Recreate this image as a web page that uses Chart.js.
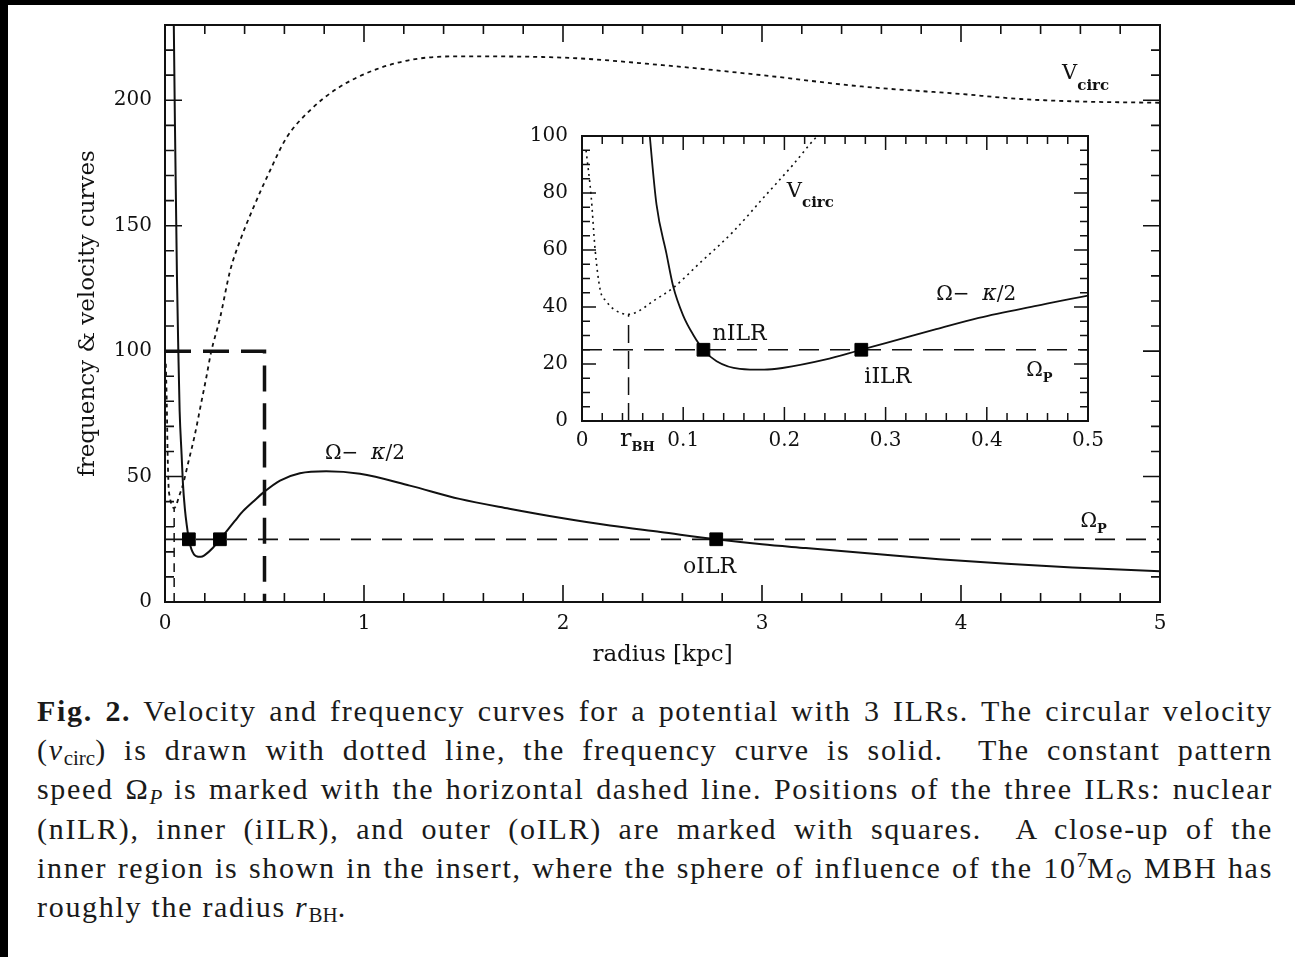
<!DOCTYPE html>
<html lang="en">
<head>
<meta charset="UTF-8">
<title>Fig. 2 - velocity and frequency curves</title>
<script src="https://cdn.jsdelivr.net/npm/chart.js"></script>
<style>
  body {
    margin: 0;
    width: 1295px;
    height: 957px;
    position: relative;
    overflow: hidden;
    background: #fff;
  }
  .edge-top { position: absolute; left: 0; top: 0; width: 1295px; height: 5px; background: #000; }
  .edge-left { position: absolute; left: 0; top: 0; width: 8px; height: 957px; background: #000; }
  #mainChart { position: absolute; left: 0; top: 0; }
  #insetChart { position: absolute; left: 500px; top: 110px; }
  .caption {
    position: absolute;
    left: 37px;
    top: 691px;
    width: 1236px;
    font-family: 'Liberation Serif', 'Times New Roman', serif;
    font-size: 30px;
    letter-spacing: 1.7px;
    line-height: 39.2px;
    color: #1a1a1a;
  }
  .caption div { text-align: justify; text-align-last: justify; white-space: nowrap; }
  .caption div.last { text-align-last: left; }
  .caption sub, .caption sup { font-size: 21px; letter-spacing: 0; line-height: 0; position: relative; vertical-align: baseline; }
  .caption sub { top: 5px; }
  .caption sup { top: -11px; }
</style>
</head>
<body>
<div class="edge-top"></div>
<div class="edge-left"></div>
<canvas id="mainChart" width="1295" height="680"></canvas>
<canvas id="insetChart" width="620" height="360"></canvas>

<div class="caption">
  <div><b>Fig. 2.</b> Velocity and frequency curves for a potential with 3 ILRs. The circular velocity</div>
  <div>(<i>v</i><sub>circ</sub>) is drawn with dotted line, the frequency curve is solid. &nbsp;The constant pattern</div>
  <div>speed &Omega;<sub><i>P</i></sub> is marked with the horizontal dashed line. Positions of the three ILRs: nuclear</div>
  <div>(nILR), inner (iILR), and outer (oILR) are marked with squares. &nbsp;A close-up of the</div>
  <div>inner region is shown in the insert, where the sphere of influence of the 10<sup>7</sup>M<sub>&#8857;</sub> MBH has</div>
  <div class="last">roughly the radius <i>r</i><sub>BH</sub>.</div>
</div>

<script>
// radius in kpc, curves in km/s (velocity) and km/s/kpc (frequency)
const OMEGA_P = 25;
const R_BH = 0.046;
const VCIRC_AT_RBH = 37.4;

// Omega - kappa/2 (solid)
const freqRadius = [0.040, 0.050, 0.060, 0.067, 0.0736, 0.0834, 0.090, 0.100, 0.110, 0.120,
                    0.133, 0.156, 0.180, 0.198, 0.240, 0.276, 0.300, 0.350, 0.392, 0.450,
                    0.500, 0.578, 0.678, 0.810, 0.980, 1.230, 1.480, 1.730, 1.985, 2.236,
                    2.490, 2.770, 3.000, 3.220, 3.560, 3.890, 4.230, 4.560, 5.000];
const freqValue  = [260, 190, 130, 100, 76, 58.8, 47.4, 37, 30.2, 25,
                    21, 18.3, 18, 18.6, 21.5, 25, 27.3, 32.2, 36.2, 40.5,
                    44, 48.4, 51.3, 52.1, 51.1, 46.4, 41.1, 37.2, 33.6, 30.5,
                    27.9, 25, 23.0, 21.5, 19.2, 17.0, 15.2, 13.8, 12.3];

// circular velocity (dotted)
const vcircRadius = [0.004, 0.009, 0.013, 0.018, 0.024, 0.031, 0.046, 0.057, 0.070, 0.090,
                     0.116, 0.149, 0.182, 0.208, 0.231, 0.276, 0.327, 0.377, 0.443, 0.528,
                     0.610, 0.729, 0.862, 1.064, 1.315, 1.500, 2.000, 2.500, 3.000, 3.500,
                     4.000, 4.300, 4.600, 5.000];
const vcircValue  = [95, 79, 60, 46, 42, 39.3, 37.4, 38.8, 42, 46.7,
                     55.3, 66.3, 79.4, 89.7, 99.4, 113, 132, 144, 157, 172,
                     185, 196, 204.5, 212.4, 217, 217.5, 217, 214, 210, 205.5,
                     202.5, 200.5, 199.5, 199];

// ILR positions (squares)
const ilrRadius = [0.120, 0.276, 2.770];

// zoom box of the insert
const boxRadius = [0, 0.5, 0.5];
const boxValue  = [100, 100, 0];

const mainXTicks = [0, 1, 2, 3, 4, 5];
const mainYTicks = [0, 50, 100, 150, 200];
const insetXTicks = [0, 0.1, 0.2, 0.3, 0.4, 0.5];
const insetYTicks = [0, 20, 40, 60, 80, 100];

const INK = '#111';
const FONT = '"DejaVu Serif", serif';

const pts = (xs, ys) => xs.map((r, i) => ({ x: r, y: ys[i] }));

// frame + inward ticks on all four sides
const frameTicks = {
  id: 'frameTicks',
  afterDatasetsDraw(chart, args, o) {
    const { ctx, chartArea: a, scales: { x, y } } = chart;
    ctx.save();
    ctx.strokeStyle = INK;
    ctx.lineWidth = o.lineWidth;
    ctx.setLineDash([]);
    ctx.strokeRect(a.left, a.top, a.right - a.left, a.bottom - a.top);
    ctx.lineWidth = o.tickWidth;
    ctx.beginPath();
    const n1 = Math.round((x.max - x.min) / o.xMinor);
    for (let i = 0; i <= n1; i++) {
      const v = x.min + i * o.xMinor;
      const q = v / o.xMajor;
      const len = Math.abs(q - Math.round(q)) < 1e-6 ? o.major : o.minor;
      const px = x.getPixelForValue(v);
      ctx.moveTo(px, a.bottom); ctx.lineTo(px, a.bottom - len);
      ctx.moveTo(px, a.top); ctx.lineTo(px, a.top + len);
    }
    const n2 = Math.round((y.max - y.min) / o.yMinor);
    for (let i = 0; i <= n2; i++) {
      const v = y.min + i * o.yMinor;
      const q = v / o.yMajor;
      const len = Math.abs(q - Math.round(q)) < 1e-6 ? o.major : o.minor;
      const py = y.getPixelForValue(v);
      ctx.moveTo(a.left, py); ctx.lineTo(a.left + len, py);
      ctx.moveTo(a.right, py); ctx.lineTo(a.right - len, py);
    }
    ctx.stroke();
    ctx.restore();
  }
};

// in-plot annotations; each piece: [text, size, italic?, bold?, drop]
const textMarks = {
  id: 'textMarks',
  afterDraw(chart, args, o) {
    const { ctx, scales: { x, y } } = chart;
    ctx.save();
    ctx.fillStyle = INK;
    ctx.textAlign = 'left';
    ctx.textBaseline = 'alphabetic';
    for (const m of o.items) {
      let px = x.getPixelForValue(m.x);
      const py = y.getPixelForValue(m.y);
      for (const [t, size, it, bd, drop] of m.parts) {
        ctx.font = (it ? 'italic ' : '') + (bd ? 'bold ' : '') + size + 'px ' + FONT;
        ctx.fillText(t, px, py + (drop || 0));
        px += ctx.measureText(t).width;
      }
    }
    ctx.restore();
  }
};

const omegaKappa = size => [['Ω−  ', size], ['κ', size + 2, true], ['/2', size]];

function lineSet(data, width, dash, order) {
  return {
    data, borderColor: INK, borderWidth: width, borderDash: dash,
    pointRadius: 0, fill: false, order, cubicInterpolationMode: 'monotone'
  };
}

function squares(rs) {
  return {
    data: rs.map(r => ({ x: r, y: OMEGA_P })),
    showLine: false, pointStyle: 'rect', pointRadius: 9,
    pointBackgroundColor: '#000', pointBorderColor: '#000', pointBorderWidth: 1,
    order: 0
  };
}

function axisOpts(min, max, ticks, size, pad, fit, title) {
  return {
    type: 'linear', min, max,
    afterBuildTicks: s => { s.ticks = ticks.map(v => ({ value: v })); },
    afterFit: fit,
    grid: { display: false, drawTicks: false },
    border: { display: false },
    ticks: { padding: pad, color: INK, maxRotation: 0, autoSkip: false,
             font: { family: FONT, size }, callback: v => String(v) },
    title: title || { display: false }
  };
}

new Chart(document.getElementById('mainChart'), {
  type: 'line',
  data: {
    datasets: [
      squares(ilrRadius),
      lineSet(pts(freqRadius, freqValue), 2, [], 1),
      lineSet(pts(vcircRadius, vcircValue), 1.8, [4, 4], 2),
      lineSet(pts([0, 5], [OMEGA_P, OMEGA_P]), 1.8, [20, 11], 3),
      lineSet(pts(boxRadius, boxValue), 3.5, [26, 12], 4),
      lineSet(pts([R_BH, R_BH], [0, VCIRC_AT_RBH]), 1.5, [9, 6], 5)
    ]
  },
  options: {
    responsive: false,
    animation: false,
    layout: { padding: { left: 70, top: 23, right: 135, bottom: 0 } },
    plugins: {
      legend: { display: false },
      tooltip: { enabled: false },
      frameTicks: { lineWidth: 2, tickWidth: 1.6, xMajor: 1, xMinor: 0.2, yMajor: 50, yMinor: 10, major: 17, minor: 9 },
      textMarks: {
        items: [
          { x: 4.508, y: 208.3, parts: [['V', 21], ['circ', 15, false, true, 11]] },
          { x: 0.804, y: 57.1, parts: omegaKappa(20) },
          { x: 4.6, y: 29.8, parts: [['Ω', 20], ['P', 13, false, true, 6]] },
          { x: 2.603, y: 11.5, parts: [['oILR', 22]] }
        ]
      }
    },
    scales: {
      x: axisOpts(0, 5, mainXTicks, 20, 10, s => { s.height = 78; },
        { display: true, text: 'radius [kpc]', color: INK, font: { family: FONT, size: 23 }, padding: { top: 0, bottom: 11 } }),
      y: axisOpts(0, 230, mainYTicks, 20, 13, s => { s.width = 95; },
        { display: true, text: 'frequency & velocity curves', color: INK, font: { family: FONT, size: 23 }, padding: { top: 4, bottom: 0 } })
    }
  },
  plugins: [frameTicks, textMarks]
});

new Chart(document.getElementById('insetChart'), {
  type: 'line',
  data: {
    datasets: [
      squares(ilrRadius),
      lineSet(pts(freqRadius, freqValue), 1.8, [], 1),
      lineSet(pts(vcircRadius, vcircValue), 1.6, [2, 4], 2),
      lineSet(pts([0, 0.5], [OMEGA_P, OMEGA_P]), 1.6, [20, 11], 3),
      lineSet(pts([R_BH, R_BH], [0, VCIRC_AT_RBH]), 1.5, [18, 8], 4)
    ]
  },
  options: {
    responsive: false,
    animation: false,
    layout: { padding: { left: 0, top: 20, right: 32, bottom: 0 } },
    plugins: {
      legend: { display: false },
      tooltip: { enabled: false },
      frameTicks: { lineWidth: 2, tickWidth: 1.5, xMajor: 0.1, xMinor: 0.02, yMajor: 20, yMinor: 5, major: 14, minor: 8 },
      textMarks: {
        items: [
          { x: 0.2024, y: 78.7, parts: [['V', 21], ['circ', 15, false, true, 10]] },
          { x: 0.129, y: 28.5, parts: [['nILR', 22]] },
          { x: 0.279, y: 13.4, parts: [['iILR', 22]] },
          { x: 0.350, y: 42.3, parts: omegaKappa(20) },
          { x: 0.439, y: 15.8, parts: [['Ω', 20], ['P', 13, false, true, 6]] },
          { x: 0.0375, y: -8.9, parts: [['r', 24], ['BH', 13, false, true, 5]] }
        ]
      }
    },
    scales: {
      x: axisOpts(0, 0.5, insetXTicks, 20, 8, s => { s.height = 49; }),
      y: axisOpts(0, 100, insetYTicks, 20, 14, s => { s.width = 82; })
    }
  },
  plugins: [frameTicks, textMarks]
});
</script>
</body>
</html>
